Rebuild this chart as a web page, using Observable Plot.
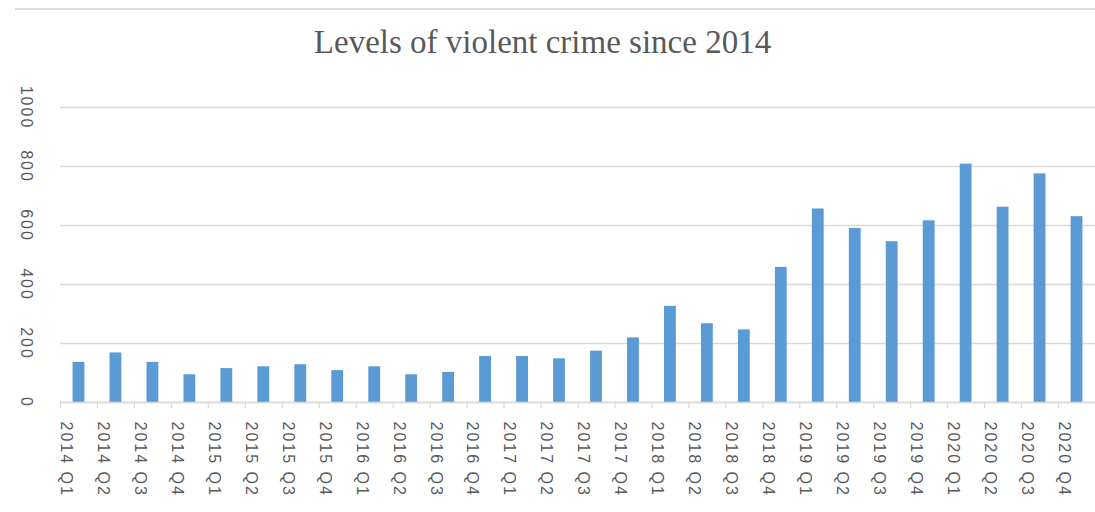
<!DOCTYPE html>
<html>
<head>
<meta charset="utf-8">
<script src="https://cdn.jsdelivr.net/npm/d3@7"></script>
<script src="https://cdn.jsdelivr.net/npm/@observablehq/plot@0.6"></script>
<style>
  html, body { margin: 0; padding: 0; background: #fff; }
  #wrap { width: 1095px; height: 512px; position: relative; overflow: hidden; }
  #head { position: relative; width: 1095px; height: 70px; }
  #topline { position: absolute; left: 15px; right: 0; top: 8px; height: 2px; background: #dcdcdc; }
  #title { position: absolute; left: 0; width: 1085px; top: 26px; text-align: center;
           font-family: "Liberation Serif", serif; font-size: 33px; line-height: 32px; color: #595959; white-space: pre; }
  #chart svg text { letter-spacing: 2px; }
</style>
</head>
<body>
<div id="wrap">
  <div id="head"><div id="topline"></div><div id="title"></div></div>
  <div id="chart"></div>
</div>
<script>
const titleText = "Levels of violent crime since 2014";
const quarters = [
  "2014 Q1","2014 Q2","2014 Q3","2014 Q4",
  "2015 Q1","2015 Q2","2015 Q3","2015 Q4",
  "2016 Q1","2016 Q2","2016 Q3","2016 Q4",
  "2017 Q1","2017 Q2","2017 Q3","2017 Q4",
  "2018 Q1","2018 Q2","2018 Q3","2018 Q4",
  "2019 Q1","2019 Q2","2019 Q3","2019 Q4",
  "2020 Q1","2020 Q2","2020 Q3","2020 Q4"
];
const crimes = [
  136, 168, 136, 94,
  115, 121, 128, 108,
  121, 94, 102, 156,
  156, 148, 174, 219,
  326, 267, 246, 458,
  656, 590, 545, 616,
  808, 662, 775, 630
];
const yTicks = [0, 200, 400, 600, 800, 1000];

document.getElementById("title").textContent = titleText;

const data = quarters.map((q, i) => ({q, v: crimes[i]}));

const W = 1095, H = 442, ML = 60, MR = 0, MT = 37, MB = 110;
const step = (W - ML - MR) / quarters.length;
const grey = "#d9d9d9";
const labelColor = "#595959";
const font = "Liberation Sans, Arial, sans-serif";

const chart = Plot.plot({
  width: W,
  height: H,
  marginLeft: ML,
  marginRight: MR,
  marginTop: MT,
  marginBottom: MB,
  style: {fontFamily: font, background: "#fff"},
  x: {type: "band", domain: quarters, paddingInner: 0.68, paddingOuter: 0.34, round: false, axis: null},
  y: {domain: [0, 1000], axis: null},
  marks: [
    Plot.gridY(yTicks, {stroke: grey, strokeOpacity: 1, strokeWidth: 1.5}),
    Plot.barY(data, {x: "q", y: "v", fill: "#5b9bd5"}),
    Plot.ruleY([0], {stroke: grey, strokeWidth: 1.5}),
    Plot.axisX({ticks: quarters, tickSize: 6, dx: -step / 2, text: null, label: null, stroke: grey, strokeWidth: 1.2, strokeOpacity: 1}),
    Plot.text(quarters, {
      x: d => d, text: d => d, frameAnchor: "bottom", rotate: 90,
      textAnchor: "start", lineAnchor: "middle", dy: 19, dx: -13,
      fill: labelColor, fontSize: 16
    }),
    Plot.text(yTicks, {
      y: d => d, text: d => String(d), frameAnchor: "left", rotate: 90,
      textAnchor: "middle", lineAnchor: "middle", dx: -34.5,
      fill: labelColor, fontSize: 16
    })
  ]
});
document.getElementById("chart").appendChild(chart);
</script>
</body>
</html>
